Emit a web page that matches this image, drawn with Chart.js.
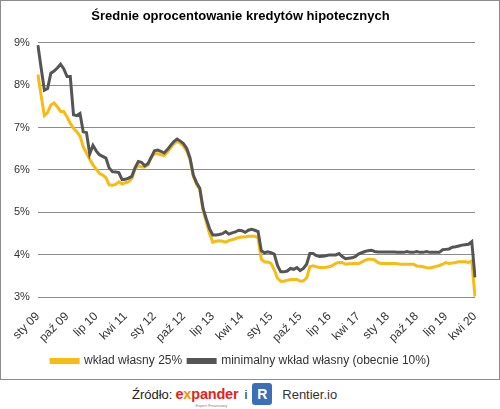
<!DOCTYPE html>
<html>
<head>
<meta charset="utf-8">
<script src="https://cdn.jsdelivr.net/npm/chart.js@4.4.1/dist/chart.umd.min.js"></script>
<style>
  body { margin: 0; background: #fff; font-family: "Liberation Sans", Arial, sans-serif; }
  #box { position: absolute; left: 0; top: 0; width: 498px; height: 378px; border: 1px solid #8c8c8c; }
  #src { position: absolute; left: 132px; top: 381px; height: 26px; display: flex; align-items: center; font-size: 13px; color: #222; }
  .exp { color: #e2231a; font-weight: bold; font-size: 14.5px; margin-left: 3px; position: relative; letter-spacing: -0.2px; }
  .exp .x { color: #f39200; }
  .exp small { position: absolute; left: 20px; top: 17px; font-size: 4px; color: #888; font-weight: normal; letter-spacing: 0; white-space: nowrap; }
  .rbox { width: 20px; height: 22px; border-radius: 3px; background: #3b6fb6; color: #fff; font-weight: bold; font-size: 14px; display: flex; align-items: center; justify-content: center; margin-left: 5px; }
  .ren { margin-left: 10px; font-size: 13px; color: #333; }
</style>
</head>
<body>
<div id="box"><canvas id="myChart" width="498" height="378"></canvas></div>
<div id="src">Źródło: <span class="exp">e<span class="x">x</span>pander<small>Expert Finansowy</small></span><span style="margin-left:6px">i</span><span class="rbox">R</span><span class="ren">Rentier.io</span></div>
<script>
const ctx = document.getElementById('myChart');

// months Jan 2009 .. Apr 2020
const monthNames = ['sty', 'lut', 'mar', 'kwi', 'maj', 'cze', 'lip', 'sie', 'wrz', 'paź', 'lis', 'gru'];
const labels = [];
for (let y = 2009; y <= 2020; y++) {
  for (let m = 0; m < 12; m++) {
    if (y === 2020 && m > 3) break;
    labels.push(monthNames[m] + ' ' + String(y).slice(2));
  }
}

// wkład własny 25%
const down25 = [
  8.25, 7.75, 7.28, 7.35, 7.53, 7.58, 7.49, 7.38, 7.38, 7.25, 7.10, 6.98,
  6.90, 6.80, 6.55, 6.40, 6.25, 6.12, 6.02, 5.92, 5.88, 5.82, 5.65, 5.64,
  5.66, 5.72, 5.67, 5.70, 5.72, 5.80, 6.02, 6.10, 6.07, 6.07, 6.12, 6.30,
  6.38, 6.38, 6.36, 6.34, 6.42, 6.52, 6.62, 6.67, 6.63, 6.56, 6.44, 6.24,
  5.85, 5.66, 5.54, 5.05, 4.78, 4.50, 4.30, 4.32, 4.33, 4.32, 4.30, 4.34,
  4.36, 4.38, 4.41, 4.42, 4.42, 4.44, 4.44, 4.44, 4.40, 3.90, 3.83, 3.83,
  3.80, 3.65, 3.45, 3.38, 3.38, 3.40, 3.42, 3.42, 3.42, 3.38, 3.39, 3.46,
  3.72, 3.74, 3.72, 3.70, 3.70, 3.71, 3.72, 3.75, 3.80, 3.82, 3.82, 3.78,
  3.79, 3.79, 3.80, 3.79, 3.83, 3.87, 3.90, 3.90, 3.88, 3.82, 3.80, 3.80,
  3.80, 3.80, 3.80, 3.79, 3.78, 3.78, 3.78, 3.78, 3.78, 3.74, 3.73, 3.72,
  3.70, 3.69, 3.71, 3.73, 3.75, 3.78, 3.82, 3.80, 3.81, 3.82, 3.84, 3.84,
  3.84, 3.82, 3.86, 3.02
];

// minimalny wkład własny (obecnie 10%)
const downMin = [
  8.94, 8.40, 7.88, 7.92, 8.28, 8.33, 8.40, 8.49, 8.38, 8.20, 8.20, 7.30,
  7.28, 7.33, 6.90, 6.88, 6.38, 6.58, 6.45, 6.36, 6.32, 6.28, 6.05, 5.96,
  5.95, 5.94, 5.77, 5.78, 5.81, 5.85, 6.05, 6.20, 6.18, 6.10, 6.15, 6.30,
  6.45, 6.47, 6.44, 6.40, 6.48, 6.58, 6.67, 6.73, 6.68, 6.62, 6.50, 6.28,
  5.88, 5.70, 5.57, 5.10, 4.85, 4.62, 4.47, 4.47, 4.48, 4.50, 4.55, 4.49,
  4.52, 4.54, 4.58, 4.57, 4.53, 4.58, 4.60, 4.58, 4.55, 4.10, 4.05, 4.07,
  4.05, 4.02, 3.75, 3.60, 3.60, 3.62, 3.68, 3.66, 3.70, 3.63, 3.68, 3.78,
  4.03, 4.03, 3.98, 3.96, 3.97, 3.98, 4.00, 4.00, 4.00, 4.03, 3.96, 3.91,
  3.92, 3.93, 3.96, 4.02, 4.05, 4.08, 4.10, 4.11, 4.08, 4.07, 4.07, 4.07,
  4.07, 4.07, 4.07, 4.06, 4.06, 4.06, 4.08, 4.06, 4.06, 4.08, 4.06, 4.06,
  4.08, 4.06, 4.06, 4.06, 4.06, 4.12, 4.13, 4.14, 4.18, 4.19, 4.21, 4.23,
  4.24, 4.25, 4.31, 3.47
];

const font = "'Liberation Sans', Arial, sans-serif";

new Chart(ctx, {
  type: 'line',
  data: {
    labels: labels,
    datasets: [{
      label: 'wkład własny 25%',
      data: down25,
      borderColor: '#f7bb12',
      backgroundColor: '#f7bb12',
      borderWidth: 3,
      pointRadius: 0,
      order: 1
    }, {
      label: 'minimalny wkład własny (obecnie 10%)',
      data: downMin,
      borderColor: '#555555',
      backgroundColor: '#555555',
      borderWidth: 3,
      pointRadius: 0,
      order: 0
    }]
  },
  options: {
    responsive: false,
    animation: false,
    layout: { autoPadding: false, padding: { left: 5, right: 24, bottom: 2 } },
    plugins: {
      title: {
        display: true,
        text: 'Średnie oprocentowanie kredytów hipotecznych',
        color: '#000',
        font: { family: font, size: 13, weight: 'bold' },
        padding: { top: 8, bottom: 18 }
      },
      legend: {
        position: 'bottom',
        labels: {
          color: '#333',
          font: { family: font, size: 12 },
          boxWidth: 27,
          boxHeight: 3,
          padding: 6,
          sort: (a, b) => a.datasetIndex - b.datasetIndex
        }
      },
      tooltip: { enabled: false }
    },
    scales: {
      x: {
        grid: { display: false },
        border: { display: false },
        ticks: {
          autoSkip: false,
          minRotation: 45,
          maxRotation: 45,
          padding: 4,
          color: '#333',
          font: { family: font, size: 12 },
          callback: function (value, index) {
            return index % 9 === 0 ? this.getLabelForValue(value) : null;
          }
        }
      },
      y: {
        min: 3,
        max: 9,
        border: { display: false },
        grid: { color: '#8c8c8c', drawTicks: false },
        ticks: {
          stepSize: 1,
          padding: 8,
          color: '#333',
          font: { family: font, size: 11 },
          callback: v => v + '%'
        }
      }
    }
  }
});
</script>
</body>
</html>
